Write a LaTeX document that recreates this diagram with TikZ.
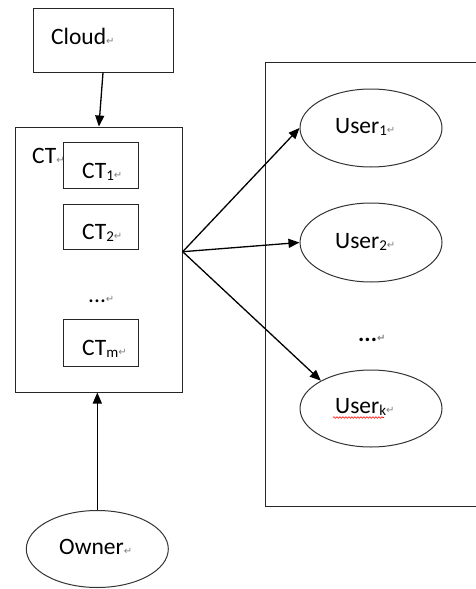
\documentclass[tikz,border=0pt]{standalone}
\usepackage{fontspec}
\setmainfont{Carlito}
\newfontfamily\marksfont{DejaVu Sans}
\usetikzlibrary{arrows.meta,shapes.geometric,decorations.pathmorphing}

% paragraph mark after each text line, and lowered subscripts
\newcommand\parmark{{\marksfont\fontsize{10}{10}\selectfont\color{black!50}↵}}
\newcommand\lowsub[1]{\raisebox{-2pt}{\fontsize{15}{15}\selectfont #1}}

\tikzset{
  box/.style={draw=black!85, line width=1pt, inner sep=0pt},
  oval/.style={ellipse, draw=black!80, line width=1pt, inner sep=0pt,
               minimum width=142pt},
  label/.style={anchor=base west, inner sep=0pt, font=\fontsize{23.5}{24}\selectfont},
  arrow/.style={draw=black, line width=1.3pt,
                -{Triangle[length=11pt,width=9pt]}},
}

\begin{document}
\begin{tikzpicture}[x=1pt, y=-1pt]
  \useasboundingbox (0,0) rectangle (476,589);

  % boxes on the left
  \node[box, minimum width=140pt, minimum height=64pt] (cloud) at (103,40) {};
  \node[box, minimum width=167.7pt, minimum height=265pt] (ct) at (98.9,259.5) {};
  \node[box, minimum width=75pt, minimum height=46pt] (ct1) at (100.5,165.5) {};
  \node[box, minimum width=75pt, minimum height=45pt] (ct2) at (100.5,226.8) {};
  \node[box, minimum width=75pt, minimum height=47pt] (ctm) at (100.5,343) {};
  \node[oval, minimum height=77pt] (owner) at (97.3,549) {};

  % users panel, open on the right
  \draw[draw=black!85, line width=1pt] (476,62) -- (265.7,62) -- (265.7,506) -- (476,506);

  \node[oval, minimum height=78pt] (u1) at (371,128) {};
  \node[oval, minimum height=79pt] (u2) at (371,242.5) {};
  \node[oval, minimum height=77pt] (uk) at (371,408.5) {};

  % texts
  \node[label] (tcloud) at (51,44) {Cloud\parmark};
  \node[label] (tct) at (32,163) {CT\parmark};
  \node[label] (tct1) at (82,178) {CT\lowsub{1}\parmark};
  \node[label] (tct2) at (82,239) {CT\lowsub{2}\parmark};
  \node[label] (tdots) at (88,302) {...\parmark};
  \node[label] (tctm) at (82,355) {CT\lowsub{m}\parmark};
  \node[label] (tu1) at (335,133) {User\lowsub{1}\parmark};
  \node[label] (tu2) at (335,248) {User\lowsub{2}\parmark};
  \node[label] (tudots) at (358,341) {\bfseries ...\parmark};
  \node[label] (tuk) at (335,413) {User\lowsub{k}\parmark};
  \node[label] (towner) at (59,554) {Owner\parmark};

  % spelling underline
  \draw[red, line width=0.6pt, decorate,
        decoration={snake, amplitude=0.8pt, segment length=3pt}]
        (333,417.5) -- (384,417.5);

  % connectors
  \coordinate (fan) at (182.7,251.7);
  \draw[arrow] (cloud.south) -- (ct.north);
  \draw[arrow] (fan) -- (u1.west);
  \draw[arrow] (fan) -- (u2.west);
  \draw[arrow] (fan) -- (uk.151);
  \draw[arrow] (owner.north) -- (owner.north |- ct.south);
\end{tikzpicture}
\end{document}
